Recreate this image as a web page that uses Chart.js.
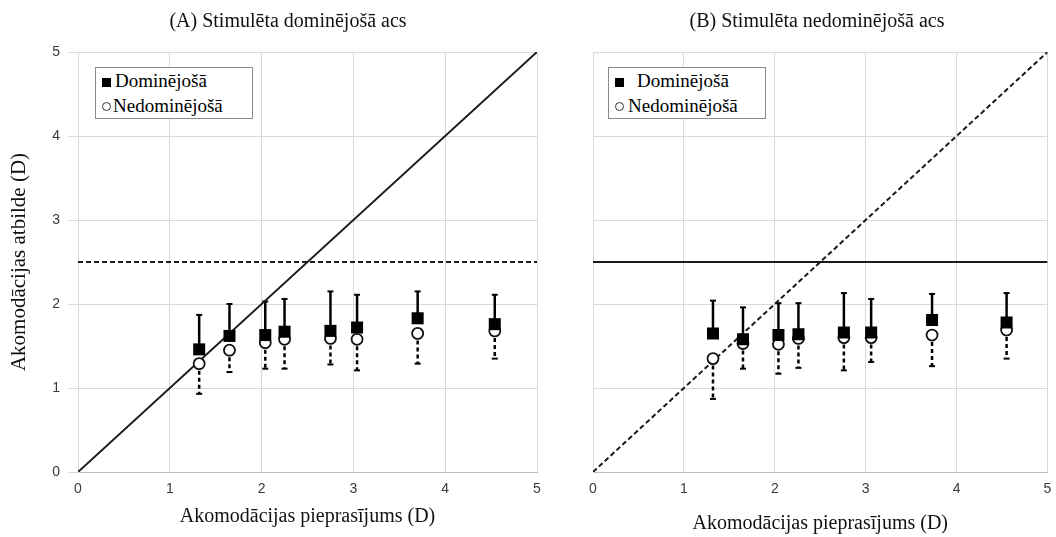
<!DOCTYPE html>
<html>
<head>
<meta charset="utf-8">
<script src="https://cdn.jsdelivr.net/npm/chart.js@4.4.0/dist/chart.umd.min.js"></script>
<style>
  body { margin: 0; background: #fff; width: 1056px; height: 537px; position: relative; overflow: hidden; }
  canvas { position: absolute; top: 0; }
  .key {
    position: absolute; top: 67px; height: 50px; border: 1px solid #8a8a8a; background: #fff;
    font-family: 'Liberation Serif', serif; font-size: 19px; color: #000; line-height: 25px; padding-top: 0;
  }
  .key div { white-space: nowrap; padding-left: 6px; }
  .sq { display: inline-block; width: 9px; height: 9px; background: #000; margin-right: 4px; vertical-align: 0; }
  .ci { display: inline-block; width: 7px; height: 7px; border: 1.5px solid #333; border-radius: 50%; margin-right: 2px; vertical-align: 1px; }
</style>
</head>
<body>
<canvas id="panelA" width="576" height="537" style="left:0"></canvas>
<canvas id="panelB" width="478" height="537" style="left:578px"></canvas>
<div class="key" style="left:95px; width:156px">
  <div><span class="sq"></span>Dominējošā</div>
  <div><span class="ci"></span>Nedominējošā</div>
</div>
<div class="key" style="left:608px; width:156px">
  <div><span class="sq" style="margin-right:13px"></span>Dominējošā</div>
  <div><span class="ci" style="margin-right:4px"></span>Nedominējošā</div>
</div>
<script>
// accommodation demand (x) for each stimulus step
var demandA = [1.32, 1.65, 2.04, 2.25, 2.75, 3.04, 3.70, 4.54];
var demandB = [1.32, 1.65, 2.04, 2.26, 2.76, 3.06, 3.73, 4.55];

// (A) dominant eye stimulated
var domA    = [1.46, 1.62, 1.63, 1.67, 1.68, 1.72, 1.83, 1.76];
var domAHi  = [1.87, 2.00, 2.03, 2.06, 2.15, 2.11, 2.15, 2.11];
var nonA    = [1.29, 1.45, 1.54, 1.58, 1.59, 1.58, 1.65, 1.68];
var nonALo  = [0.93, 1.19, 1.23, 1.23, 1.28, 1.21, 1.29, 1.35];

// (B) non-dominant eye stimulated
var domB    = [1.65, 1.58, 1.63, 1.64, 1.66, 1.66, 1.81, 1.78];
var domBHi  = [2.04, 1.96, 2.01, 2.01, 2.13, 2.06, 2.12, 2.13];
var nonB    = [1.35, 1.53, 1.52, 1.59, 1.60, 1.60, 1.63, 1.69];
var nonBLo  = [0.87, 1.23, 1.17, 1.24, 1.21, 1.31, 1.26, 1.35];

// reference lines: 1:1 response and the fixed 2.5 D level
var refX     = [0, 5];
var refDiagY = [0, 5];
var refFlatY = [2.5, 2.5];

var axisMin = 0, axisMax = 5, axisStep = 1;

function points(xs, ys) {
    return xs.map(function(x, i) { return { x: x, y: ys[i] }; });
}

// whiskers drawn under the markers, one direction per series
var errorBars = {
    id: 'errorBars',
    beforeDatasetsDraw: function(chart) {
        var ctx = chart.ctx;
        var yScale = chart.scales.y;
        chart.data.datasets.forEach(function(ds, i) {
            if (!ds.errorTo) return;
            var meta = chart.getDatasetMeta(i);
            ctx.save();
            ctx.strokeStyle = '#000';
            meta.data.forEach(function(pt, j) {
                var yEnd = yScale.getPixelForValue(ds.errorTo[j]);
                ctx.lineWidth = 2.5;
                ctx.setLineDash(ds.errorDash || []);
                ctx.beginPath();
                ctx.moveTo(pt.x, pt.y);
                ctx.lineTo(pt.x, yEnd);
                ctx.stroke();
                ctx.setLineDash([]);
                ctx.lineWidth = 2;
                ctx.beginPath();
                ctx.moveTo(pt.x - 3, yEnd);
                ctx.lineTo(pt.x + 3, yEnd);
                ctx.stroke();
            });
            ctx.restore();
        });
    }
};

function makePanel(id, cfg) {
    var ctx = document.getElementById(id).getContext('2d');
    return new Chart(ctx, {
        type: 'scatter',
        data: {
            datasets: [
                {
                    label: 'Dominējošā',
                    data: points(cfg.demand, cfg.dom),
                    errorTo: cfg.domHi,
                    pointStyle: 'rect',
                    pointRadius: 8.5,
                    backgroundColor: '#000',
                    borderColor: '#000',
                    borderWidth: 0,
                    order: 1
                },
                {
                    label: 'Nedominējošā',
                    data: points(cfg.demand, cfg.non),
                    errorTo: cfg.nonLo,
                    errorDash: [4, 3],
                    pointStyle: 'circle',
                    pointRadius: 5.5,
                    backgroundColor: '#fff',
                    borderColor: '#111',
                    borderWidth: 1.8,
                    order: 2
                },
                {
                    data: points(refX, refDiagY),
                    showLine: true,
                    pointRadius: 0,
                    borderColor: '#1a1a1a',
                    borderWidth: 2,
                    borderDash: cfg.diagDash,
                    order: 3
                },
                {
                    data: points(refX, refFlatY),
                    showLine: true,
                    pointRadius: 0,
                    borderColor: '#1a1a1a',
                    borderWidth: 2,
                    borderDash: cfg.flatDash,
                    order: 3
                }
            ]
        },
        options: {
            responsive: false,
            animation: false,
            layout: { padding: 0 },
            plugins: {
                legend: { display: false },
                tooltip: { enabled: false },
                title: {
                    display: true,
                    text: cfg.title,
                    color: '#111',
                    font: { family: 'Liberation Serif', size: 20, weight: 'normal' },
                    padding: { top: 10, bottom: 18 }
                }
            },
            scales: {
                x: {
                    type: 'linear',
                    min: axisMin, max: axisMax,
                    // fixed band height; right gap kept as scale padding so the title stays centred on the canvas
                    afterFit: function(s) {
                        s.height = 65;
                        s.paddingLeft = 0;
                        s.paddingRight = cfg.padRight;
                    },
                    ticks: {
                        stepSize: axisStep,
                        padding: 9,
                        color: '#3a3a3a',
                        font: { family: 'Liberation Sans', size: 14 }
                    },
                    grid: { color: '#d9d9d9', drawTicks: false },
                    border: { color: '#bdbdbd' },
                    title: {
                        display: true,
                        text: 'Akomodācijas pieprasījums (D)',
                        color: '#111',
                        font: { family: 'Liberation Serif', size: 20 },
                        padding: { top: 0, bottom: cfg.xTitlePad }
                    }
                },
                y: {
                    type: 'linear',
                    min: axisMin, max: axisMax,
                    afterFit: function(s) { s.width = cfg.yWidth; },
                    ticks: {
                        display: cfg.yLabels,
                        stepSize: axisStep,
                        padding: 8,
                        color: '#3a3a3a',
                        font: { family: 'Liberation Sans', size: 14 }
                    },
                    grid: { color: '#d9d9d9', drawTicks: cfg.yLabels, tickLength: 10 },
                    border: { color: '#d9d9d9' },
                    title: {
                        display: cfg.yLabels,
                        text: 'Akomodācijas atbilde (D)',
                        color: '#111',
                        font: { family: 'Liberation Serif', size: 21 },
                        padding: { top: 7, bottom: 0 }
                    }
                }
            }
        },
        plugins: [errorBars]
    });
}

makePanel('panelA', {
    title: '(A) Stimulēta dominējošā acs',
    demand: demandA, dom: domA, domHi: domAHi, non: nonA, nonLo: nonALo,
    diagDash: [], flatDash: [5, 3],
    yLabels: true, yWidth: 78, padRight: 39, xTitlePad: 8
});

makePanel('panelB', {
    title: '(B) Stimulēta nedominējošā acs',
    demand: demandB, dom: domB, domHi: domBHi, non: nonB, nonLo: nonBLo,
    diagDash: [5, 3], flatDash: [],
    yLabels: false, yWidth: 15, padRight: 7, xTitlePad: 1
});
</script>
</body>
</html>
